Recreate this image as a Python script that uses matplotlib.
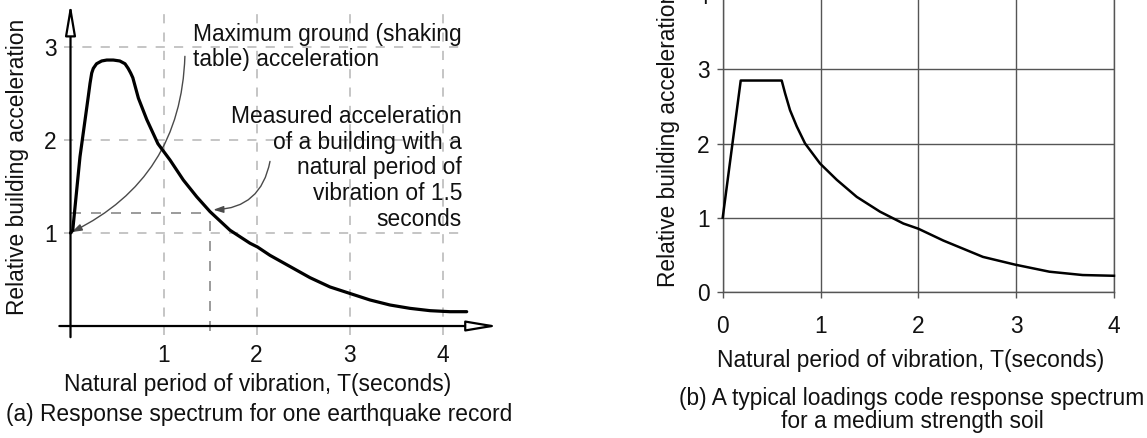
import matplotlib
matplotlib.use("Agg")
import matplotlib.pyplot as plt
from matplotlib.patches import FancyArrowPatch

plt.rcParams['font.family'] = ['Liberation Sans', 'DejaVu Sans']

left_T = [0.0, 0.024, 0.102, 0.19, 0.21, 0.228, 0.245, 0.28, 0.335, 0.39, 0.46, 0.53,
          0.586, 0.62, 0.647, 0.67, 0.73, 0.82, 0.94, 1.07, 1.213, 1.357, 1.5, 1.715,
          1.93, 2.01, 2.145, 2.36, 2.575, 2.79, 3.005, 3.22, 3.435, 3.65, 3.866, 4.08, 4.26]
left_A = [1.0, 1.03, 1.82, 2.46, 2.61, 2.72, 2.77, 2.82, 2.85, 2.86, 2.86, 2.85,
          2.82, 2.77, 2.72, 2.67, 2.45, 2.22, 1.96, 1.785, 1.57, 1.39, 1.23, 1.03,
          0.89, 0.85, 0.76, 0.64, 0.52, 0.42, 0.35, 0.28, 0.226, 0.19, 0.165, 0.154, 0.154]
left_xticks = [1, 2, 3, 4]
left_yticks = [1, 2, 3]
marked_T = 1.5
marked_A = 1.21

# (b) code spectrum
right_T = [0.0, 0.184, 0.603, 0.637, 0.688, 0.757, 0.842, 0.995, 1.166, 1.37, 1.608,
           1.847, 2.0, 2.256, 2.495, 2.66, 2.99, 3.34, 3.68, 4.0]
right_A = [1.0, 2.85, 2.85, 2.68, 2.45, 2.23, 2.0, 1.73, 1.51, 1.28, 1.08,
           0.92, 0.85, 0.69, 0.56, 0.47, 0.365, 0.27, 0.225, 0.215]
right_ticks = [0, 1, 2, 3, 4]

W, H = 1147, 438
ink = '#111111'
fs = 16.4


def fx(px):
    return px / W


def fy(py):
    return 1 - py / H


fig = plt.figure(figsize=(W / 100, H / 100), dpi=100)

# ---------------- left panel ----------------
ax1 = fig.add_axes([0.0412, 0.2026, 0.3973, 0.7962])
ax1.set_xlim(-0.25, 4.65)
ax1.set_ylim(-0.25, 3.5)
for s in ax1.spines.values():
    s.set_visible(False)
ax1.spines['bottom'].set_position(('data', 0))
ax1.spines['left'].set_position(('data', 0))
ax1.set_xticks(left_xticks)
ax1.set_yticks(left_yticks)
ax1.tick_params(length=0, labelsize=fs, colors=ink)
ax1.tick_params(axis='x', pad=13)
ax1.tick_params(axis='y', pad=10)

grid_kw = dict(color='#b5b5b5', lw=1.1, ls=(0, (6, 6)), zorder=1)
for y in left_yticks:
    ax1.plot([-0.07, 4.2], [y, y], **grid_kw)
for x in left_xticks:
    ax1.plot([x, x], [-0.1, 3.35], **grid_kw)

mark_kw = dict(color='#8a8a8a', lw=1.2, ls=(0, (6, 6)), zorder=1)
ax1.plot([0, marked_T], [marked_A, marked_A], **mark_kw)
ax1.plot([marked_T, marked_T], [-0.05, marked_A], **mark_kw)

ax1.plot(left_T, left_A, color='black', lw=2.3, solid_joinstyle='round',
         solid_capstyle='round', zorder=3)

# axis arrows with hollow heads
for start, end in [((0, -0.12), (0, 3.47)), ((-0.12, 0), (4.6, 0))]:
    ax1.add_patch(FancyArrowPatch(start, end, arrowstyle='-|>,head_length=19,head_width=3.2',
                                  mutation_scale=1, lw=1.6, ec='black', fc='white',
                                  shrinkA=0, shrinkB=0, zorder=4, clip_on=False))

ax1.text(1.32, 3.0, "Maximum ground (shaking\ntable) acceleration", fontsize=fs,
         color=ink, ha='left', va='center', linespacing=1.1)
ax1.text(4.21, 1.70, "Measured acceleration\nof a building with a\nnatural period of\n"
         "vibration of 1.5\nseconds", fontsize=fs, color=ink, ha='right', va='center',
         multialignment='right', linespacing=1.15)

ax1.add_patch(FancyArrowPatch((1.23, 2.90), (0.013, 1.01), connectionstyle='arc3,rad=-0.3',
                              arrowstyle='-|>,head_length=6,head_width=2', mutation_scale=1,
                              lw=1.0, color='#4a4a4a', shrinkA=0, shrinkB=0, zorder=2))
ax1.add_patch(FancyArrowPatch((2.145, 1.77), (1.535, 1.25), connectionstyle='arc3,rad=-0.4',
                              arrowstyle='-|>,head_length=6,head_width=2', mutation_scale=1,
                              lw=1.0, color='#4a4a4a', shrinkA=0, shrinkB=0, zorder=2))

fig.text(fx(18), fy(167), "Relative building acceleration", rotation=90, fontsize=fs,
         color=ink, ha='center', va='center')
fig.text(fx(258), fy(385), "Natural period of vibration, T(seconds)", fontsize=fs,
         color=ink, ha='center', va='center')
fig.text(fx(6), fy(415), "(a) Response spectrum for one earthquake record", fontsize=fs,
         color=ink, ha='left', va='center')

# ---------------- right panel ----------------
ax2 = fig.add_axes([0.6301, 0.3340, 0.3411, 0.6767])
ax2.set_xlim(0, 4)
ax2.set_ylim(0, 4)
ax2.set_xticks(right_ticks)
ax2.set_yticks(right_ticks)
ax2.grid(True, color='#555555', lw=1.0)
for s in ax2.spines.values():
    s.set_color('#555555')
    s.set_linewidth(1.0)
ax2.tick_params(direction='out', length=4.5, width=1.0, color='#555555',
                labelsize=fs, labelcolor=ink)
ax2.tick_params(axis='x', pad=12)
ax2.tick_params(axis='y', pad=5)
ax2.plot(right_T, right_A, color='black', lw=1.8, solid_joinstyle='round', zorder=3,
         clip_on=False)

fig.text(fx(668), fy(139), "Relative building acceleration", rotation=90, fontsize=fs,
         color=ink, ha='center', va='center')
fig.text(fx(911), fy(360), "Natural period of vibration, T(seconds)", fontsize=fs,
         color=ink, ha='center', va='center')
fig.text(fx(912), fy(410), "(b) A typical loadings code response spectrum\nfor a medium strength soil",
         fontsize=fs, color=ink, ha='center', va='center', linespacing=1.05)

fig.savefig("out.png", dpi=100)
